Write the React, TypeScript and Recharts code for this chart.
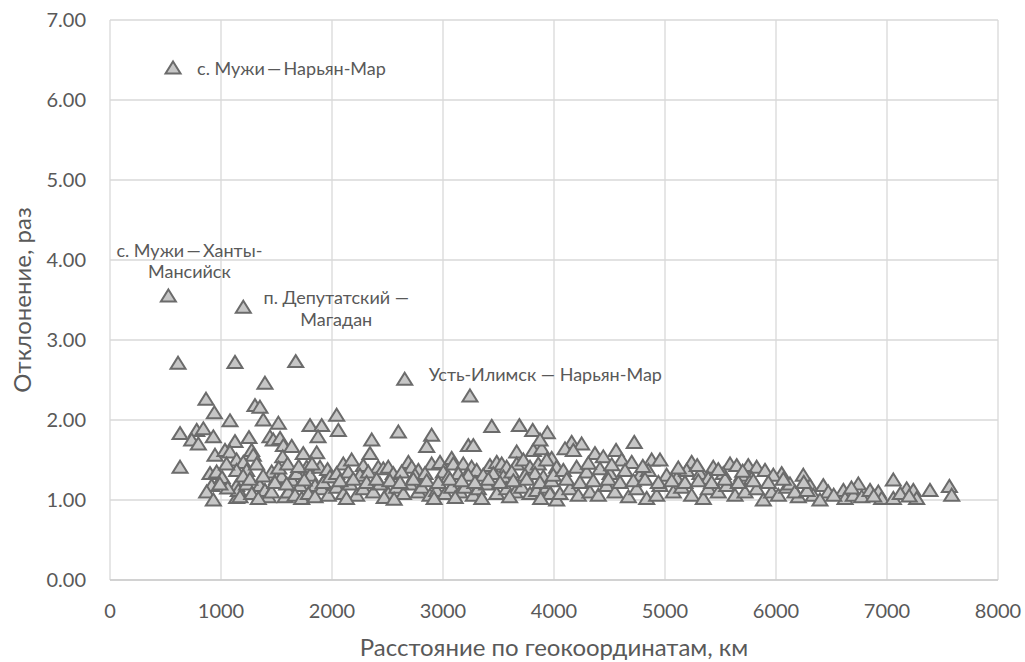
import { ScatterChart, Scatter, XAxis, YAxis, CartesianGrid, Label } from "recharts";

const X_TICKS = [0, 1000, 2000, 3000, 4000, 5000, 6000, 7000, 8000];
const Y_TICKS = [0, 1, 2, 3, 4, 5, 6, 7];

// routes that carry a caption on the chart
const namedRoutes = [
  ["с. Мужи\u2009—\u2009Нарьян-Мар"],
  ["с. Мужи\u2009—\u2009Ханты-", "Мансийск"],
  ["п. Депутатский —", "Магадан"],
  ["Усть-Илимск — Нарьян-Мар"],
];
const namedDistance = [568, 526, 1201, 2655];
const namedDeviation = [6.4, 3.55, 3.41, 2.51];

// [distance, km ; deviation, times]
const under2000 = [
  [613, 2.71], [1126, 2.72], [1673, 2.73], [1396, 2.46], [865, 2.26], [1306, 2.18], [1351, 2.16],
  [940, 2.09], [1081, 1.99], [1381, 2.0], [1517, 1.96], [1802, 1.93], [1907, 1.93], [1874, 1.79],
  [631, 1.83], [781, 1.87], [841, 1.89], [931, 1.79], [736, 1.75], [796, 1.7], [1126, 1.73],
  [1252, 1.78], [1441, 1.79], [1471, 1.75], [1532, 1.77], [1562, 1.68], [1637, 1.67], [631, 1.41],
  [946, 1.56], [1036, 1.62], [1081, 1.6], [1276, 1.62], [1291, 1.56], [1141, 1.5], [1201, 1.47],
  [1556, 1.54], [1741, 1.58], [1862, 1.59], [901, 1.33], [961, 1.35], [1141, 1.37], [1231, 1.37],
  [1321, 1.45], [1457, 1.35], [916, 1.18], [871, 1.1], [931, 1.0], [1141, 1.18], [1141, 1.03],
  [1351, 1.18], [1396, 1.12], [1426, 1.04], [1502, 1.27], [1547, 1.29], [1577, 1.04], [1637, 1.25],
  [1682, 1.33], [1712, 1.18], [1772, 1.41], [1802, 1.31], [1847, 1.18], [1892, 1.41], [1907, 1.14],
  [1952, 1.29], [1156, 1.12], [1171, 1.04], [1231, 1.2], [1607, 1.1], [1667, 1.06], [1727, 1.02],
  [1787, 1.08], [1847, 1.04], [1967, 1.06], [1277, 1.08], [1336, 1.02], [1456, 1.1], [1486, 1.22],
  [1592, 1.2], [1922, 1.22], [1010, 1.28], [1060, 1.15], [1200, 1.3], [1260, 1.26], [1380, 1.3],
  [1520, 1.4], [1600, 1.45], [1700, 1.42], [1750, 1.25], [1820, 1.45], [1960, 1.38], [1050, 1.45],
  [990, 1.2], [1982, 1.29],
];

const from2000to4000 = [
  [2042, 2.06], [2057, 1.87], [2598, 1.85], [2898, 1.81], [2853, 1.67], [2358, 1.75], [2342, 1.58],
  [3243, 2.3], [3228, 1.68], [3273, 1.68], [3439, 1.92], [3688, 1.93], [3808, 1.87], [3940, 1.84],
  [3664, 1.6], [3814, 1.62], [3889, 1.64], [3874, 1.75], [3979, 1.52],
  [2102, 1.45], [2177, 1.5], [2282, 1.43], [2417, 1.41], [2462, 1.39], [2507, 1.41], [2688, 1.47],
  [2718, 1.41], [2778, 1.37], [2898, 1.45], [2973, 1.47], [3078, 1.52], [3093, 1.45], [3183, 1.45],
  [3258, 1.41], [3303, 1.37], [3423, 1.43], [3484, 1.47], [3529, 1.45], [3574, 1.41], [3664, 1.45],
  [3724, 1.5], [3784, 1.41], [3859, 1.45], [3934, 1.5],
  [2042, 1.33], [2147, 1.35], [2252, 1.31], [2327, 1.35], [2552, 1.33], [2628, 1.35], [2748, 1.31],
  [2838, 1.33], [3003, 1.35], [3048, 1.29], [3138, 1.33], [3228, 1.31], [3363, 1.31], [3453, 1.33],
  [3544, 1.29], [3619, 1.35], [3739, 1.31], [3829, 1.33], [3904, 1.29],
  [2042, 1.16], [2102, 1.08], [2162, 1.2], [2222, 1.06], [2282, 1.14], [2372, 1.1], [2432, 1.2],
  [2507, 1.08], [2583, 1.16], [2643, 1.08], [2703, 1.2], [2778, 1.1], [2808, 1.16], [2883, 1.06],
  [2943, 1.12], [3018, 1.08], [3078, 1.16], [3153, 1.1], [3198, 1.16], [3273, 1.06], [3318, 1.14],
  [3394, 1.2], [3484, 1.08], [3574, 1.14], [3649, 1.1], [3709, 1.16], [3784, 1.08], [3844, 1.12],
  [3934, 1.16], [3964, 1.08],
  [2072, 1.24], [2192, 1.26], [2312, 1.22], [2402, 1.26], [2522, 1.24], [2613, 1.22], [2733, 1.26],
  [2853, 1.24], [2958, 1.22], [3063, 1.26], [3168, 1.24], [3288, 1.22], [3409, 1.26], [3514, 1.22],
  [3634, 1.24], [3754, 1.26], [3874, 1.22], [3979, 1.24],
  [2130, 1.02], [2470, 1.03], [2560, 1.01], [2920, 1.02], [3110, 1.03], [3350, 1.02], [3600, 1.04],
  [3880, 1.02], [4024, 1.41], [3994, 1.31], [4024, 1.0],
];

const from4000to6000 = [
  [4159, 1.72], [4249, 1.7], [4369, 1.58], [4559, 1.62], [4723, 1.72], [4099, 1.64], [4174, 1.62],
  [4444, 1.54], [4610, 1.5], [4700, 1.47], [4880, 1.5], [4955, 1.5], [5240, 1.47], [5435, 1.41],
  [5586, 1.45], [5646, 1.43], [5750, 1.43], [5826, 1.41], [5901, 1.37], [6051, 1.33],
  [4084, 1.37], [4204, 1.41], [4294, 1.35], [4414, 1.39], [4505, 1.33], [4640, 1.37], [4775, 1.31],
  [4850, 1.37], [5015, 1.31], [5105, 1.27], [5195, 1.37], [5315, 1.33], [5390, 1.27], [5525, 1.33],
  [5691, 1.31], [5781, 1.27], [5976, 1.31],
  [4054, 1.08], [4144, 1.14], [4219, 1.06], [4324, 1.1], [4399, 1.06], [4474, 1.18], [4549, 1.1],
  [4670, 1.04], [4745, 1.14], [4835, 1.02], [4925, 1.06], [4955, 1.18], [5075, 1.1], [5150, 1.16],
  [5240, 1.06], [5345, 1.02], [5390, 1.14], [5480, 1.1], [5556, 1.18], [5631, 1.06], [5721, 1.1],
  [5826, 1.14], [5886, 1.0], [5961, 1.1], [6021, 1.06], [6096, 1.16],
  [4114, 1.26], [4234, 1.22], [4354, 1.24], [4490, 1.26], [4595, 1.22], [4715, 1.24], [4820, 1.26],
  [4940, 1.22], [5060, 1.24], [5180, 1.22], [5300, 1.24], [5420, 1.22], [5541, 1.26], [5661, 1.22],
  [5796, 1.24], [5931, 1.22],
  [4310, 1.46], [4520, 1.44], [4800, 1.42], [5120, 1.4], [5290, 1.43], [5480, 1.38], [5700, 1.36],
];

const over6000 = [
  [6126, 1.2], [6201, 1.04], [6246, 1.31], [6306, 1.18], [6336, 1.06], [6426, 1.18], [6471, 1.1],
  [6396, 1.0], [6607, 1.12], [6622, 1.02], [6697, 1.06], [6742, 1.2], [6772, 1.04], [6847, 1.12],
  [6922, 1.1], [6952, 1.02], [7057, 1.25], [7057, 1.02], [7177, 1.14], [7237, 1.12], [7267, 1.02],
  [7387, 1.12], [7562, 1.17], [7583, 1.06], [6066, 1.26], [6170, 1.1], [6280, 1.12], [6520, 1.06],
  [6680, 1.15], [6880, 1.05], [7120, 1.08], [7200, 1.05], [6250, 1.22],
];

// caption placement relative to the marker
const CAPTION_LAYOUT = [
  { anchor: "start", dx: 24, dy: [0] },
  { anchor: "middle", dx: 21, dy: [-46, -25] },
  { anchor: "middle", dx: 93, dy: [-10, 12] },
  { anchor: "start", dx: 24, dy: [-5] },
];

const FONT = "Lato, 'Open Sans', sans-serif";
const TEXT = "#595959";

const points = [...under2000, ...from2000to4000, ...from4000to6000, ...over6000].map(([x, y]) => ({ x, y }));
const named = namedRoutes.map((lines, i) => ({
  x: namedDistance[i],
  y: namedDeviation[i],
  lines,
  idx: i,
}));

function Tri({ cx, cy }: any) {
  if (cx == null || cy == null) return null;
  return (
    <path
      d={`M${cx},${cy - 6.5}L${cx + 7.5},${cy + 5.5}L${cx - 7.5},${cy + 5.5}Z`}
      fill="#c6c6c6"
      stroke="#6b6b6b"
      strokeWidth={2}
    />
  );
}

function NamedTri(props: any) {
  const { cx, cy, payload } = props;
  if (cx == null || cy == null) return null;
  const lay = CAPTION_LAYOUT[payload.idx];
  return (
    <g>
      <Tri cx={cx} cy={cy} />
      <text textAnchor={lay.anchor} fontFamily={FONT} fontSize={18} fill={TEXT}>
        {payload.lines.map((l: string, i: number) => (
          <tspan key={i} x={cx + lay.dx} y={cy + lay.dy[i]} dominantBaseline="central">
            {l}
          </tspan>
        ))}
      </text>
    </g>
  );
}

export default function App() {
  return (
    <div style={{ position: "absolute", left: 0, top: 0, background: "#fff" }}>
      <ScatterChart width={1025} height={662} margin={{ top: 20, right: 27, bottom: 0, left: 0 }}>
        <CartesianGrid stroke="#d9d9d9" strokeWidth={1.3} />
        <XAxis
          type="number"
          dataKey="x"
          domain={[0, 8000]}
          ticks={X_TICKS}
          height={82}
          tickSize={0}
          tickMargin={24}
          axisLine={{ stroke: "#cccccc", strokeWidth: 1.3 }}
          tick={{ fontSize: 20, fontFamily: FONT, fill: TEXT }}
        >
          <Label
            content={({ viewBox }: any) => (
              <text
                x={viewBox.x + viewBox.width / 2}
                y={646}
                textAnchor="middle"
                dominantBaseline="central"
                fontFamily={FONT}
                fontSize={24}
                fill={TEXT}
              >
                Расстояние по геокоординатам, км
              </text>
            )}
          />
        </XAxis>
        <YAxis
          type="number"
          dataKey="y"
          domain={[0, 7]}
          ticks={Y_TICKS}
          width={110}
          tickSize={0}
          tickMargin={24}
          axisLine={false}
          tickFormatter={(v: number) => v.toFixed(2)}
          tick={{ fontSize: 20, fontFamily: FONT, fill: TEXT }}
        >
          <Label
            content={({ viewBox }: any) => {
              const cy = viewBox.y + viewBox.height / 2;
              return (
                <text
                  x={21}
                  y={cy}
                  transform={`rotate(-90, 21, ${cy})`}
                  textAnchor="middle"
                  dominantBaseline="central"
                  fontFamily={FONT}
                  fontSize={24}
                  fill={TEXT}
                >
                  Отклонение, раз
                </text>
              );
            }}
          />
        </YAxis>
        <Scatter data={points} shape={<Tri />} isAnimationActive={false} />
        <Scatter data={named} shape={<NamedTri />} isAnimationActive={false} />
      </ScatterChart>
    </div>
  );
}
